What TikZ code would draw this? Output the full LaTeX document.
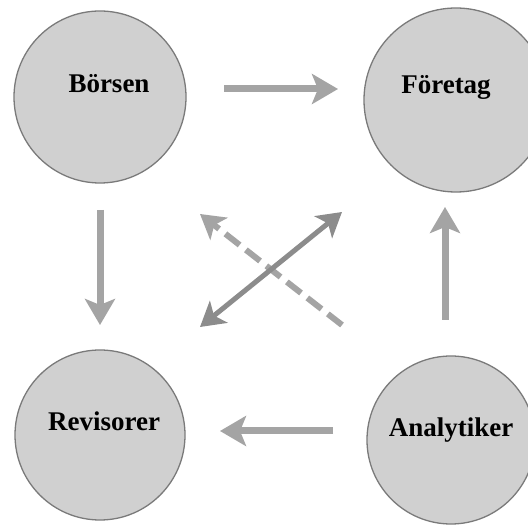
\documentclass[tikz,border=0pt]{standalone}
\usepackage{fontspec}
\setmainfont{Liberation Serif}
\usetikzlibrary{arrows.meta}
\definecolor{circfill}{HTML}{D0D0D0}
\definecolor{circline}{HTML}{7A7A7A}
\definecolor{arrowgray}{HTML}{A4A4A4}
\definecolor{arrowdark}{HTML}{8C8C8C}
\tikzset{
  circ/.style={circle, draw=circline, line width=1.3pt, fill=circfill, inner sep=0pt},
  lbl/.style={font=\fontsize{27}{30}\selectfont\bfseries, text=black, inner sep=0pt},
  flow/.style={draw=arrowgray, line width=7pt, -{Stealth[length=26pt, width=30pt, inset=6pt]}},
  flowdark/.style={draw=arrowdark, line width=5pt, {Stealth[length=24pt, width=28pt, inset=6pt]}-{Stealth[length=24pt, width=28pt, inset=6pt]}},
  flowdash/.style={draw=arrowgray, line width=6pt, dash pattern=on 18pt off 8pt, -{Stealth[length=24pt, width=28pt, inset=6pt]}}
}
\begin{document}
\begin{tikzpicture}[x=1pt,y=-1pt]
\useasboundingbox (0,0) rectangle (528,526);
\fill[white] (0,0) rectangle (528,526);
\clip (0,0) rectangle (528,526);
% circles
\node[circ, minimum size=172pt] (bors) at (100,97) {};
\node[circ, minimum size=184pt] (fore) at (456,100) {};
\node[circ, minimum size=170pt] (revi) at (100,435) {};
\node[circ, minimum size=168pt] (anal) at (451,440) {};
% labels
\node[lbl] (borsT) at (109,84) {Börsen};
\node[lbl] (foreT) at (446,87) {Företag};
\node[lbl] (reviT) at (104,421) {Revisorer};
\node[lbl] (analT) at (451,430) {Analytiker};
% arrow end points
\coordinate (bfA) at (224,89);  \coordinate (bfB) at (338,89);
\coordinate (brA) at (100,210); \coordinate (brB) at (100,325);
\coordinate (afA) at (445,320); \coordinate (afB) at (445,207);
\coordinate (arA) at (333,431); \coordinate (arB) at (220,431);
\coordinate (dA) at (200,327);  \coordinate (dB) at (342,212);
\coordinate (xA) at (342,325);  \coordinate (xB) at (200,214);
% arrows
\draw[flow] (bfA) -- (bfB);
\draw[flow] (brA) -- (brB);
\draw[flow] (afA) -- (afB);
\draw[flow] (arA) -- (arB);
\draw[flowdash] (xA) -- (xB);
\draw[flowdark] (dA) -- (dB);
\end{tikzpicture}
\end{document}
